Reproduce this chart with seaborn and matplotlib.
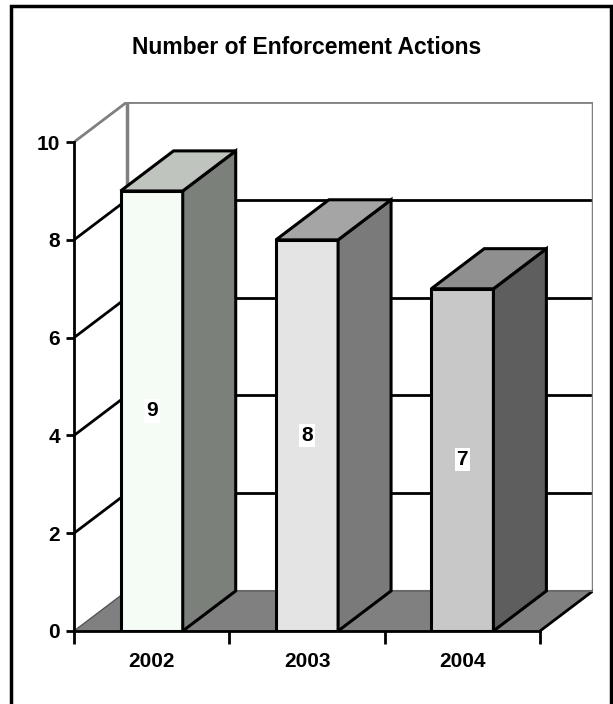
import matplotlib
matplotlib.use('Agg')
import matplotlib.pyplot as plt
from matplotlib.patches import Polygon, Rectangle
import seaborn as sns

# data
years = ['2002', '2003', '2004']
actions = [9, 8, 7]
y_ticks = [0, 2, 4, 6, 8, 10]

# bar face colours (front / side / top)
front_colors = ['#f5fcf5', '#e4e4e4', '#c8c8c8']
side_colors = ['#7c807b', '#7a7a7a', '#5e5e5e']
top_colors = ['#bfc4bf', '#a5a5a5', '#8f8f8f']

sns.set_style('white')
plt.rcParams['font.family'] = ['Liberation Sans', 'DejaVu Sans']
plt.rcParams.update({'text.color': 'black', 'axes.edgecolor': 'black',
                     'xtick.color': 'black', 'ytick.color': 'black',
                     'axes.labelcolor': 'black'})

W, H = 613, 704
fig = plt.figure(figsize=(W / 100, H / 100), dpi=100)
ax = fig.add_axes([74 / W, (H - 631) / H, (593 - 74) / W, (631 - 102) / H])

# depth offset of the pseudo-3D box (data units)
DX, DY = 0.341, 0.82
YMAX = 10

sns.barplot(x=years, y=actions, hue=years, palette=front_colors, legend=False,
            width=0.4, saturation=1, edgecolor='black', linewidth=2.2, ax=ax)
bars = list(ax.patches)

ax.set_xlim(-0.5, 2.5 + DX)
ax.set_ylim(0, YMAX + DY)

gray = '#808080'
# floor
ax.add_patch(Polygon([(-0.5, 0), (2.5, 0), (2.5 + DX, DY), (-0.5 + DX, DY)],
                     closed=True, fc=gray, ec='none', zorder=0.5))
ax.plot([2.5, 2.5 + DX], [0, DY], color='black', lw=2, zorder=0.9)
ax.plot([-0.5 + DX, 2.5 + DX], [DY, DY], color='#6a6a6a', lw=1.5, zorder=0.9)

# walls: left-wall diagonals and back-wall gridlines
for v in y_ticks[1:]:
    c = gray if v == YMAX else 'black'
    ax.plot([-0.5, -0.5 + DX], [v, v + DY], color=c, lw=2, zorder=0.8)
    ax.plot([-0.5 + DX, 2.5 + DX], [v + DY, v + DY], color=c, lw=2, zorder=0.8)
ax.plot([-0.5, -0.5 + DX], [0, DY], color='#555555', lw=1, zorder=0.9)
for xx in (-0.5 + DX, 2.5 + DX):
    ax.plot([xx, xx], [DY, YMAX + DY], color=gray, lw=2.5, zorder=0.8)

# 3D side and top faces
for bar, sc, tc in zip(bars, side_colors, top_colors):
    x0, w, h = bar.get_x(), bar.get_width(), bar.get_height()
    x1 = x0 + w
    bar.set_zorder(3)
    bar.set_joinstyle('miter')
    ax.add_patch(Polygon([(x1, 0), (x1 + DX, DY), (x1 + DX, h + DY), (x1, h)],
                         closed=True, fc=sc, ec='black', lw=2.2, zorder=3,
                         joinstyle='miter'))
    ax.add_patch(Polygon([(x0, h), (x1, h), (x1 + DX, h + DY), (x0 + DX, h + DY)],
                         closed=True, fc=tc, ec='black', lw=2.2, zorder=3,
                         joinstyle='miter'))
    ax.text(x0 + w / 2, h / 2, f'{h:.0f}', ha='center', va='center',
            fontsize=15, fontweight='bold', zorder=4,
            bbox=dict(facecolor='white', edgecolor='none', pad=1.5))

# axes styling
for s in ('top', 'right'):
    ax.spines[s].set_visible(False)
ax.spines['left'].set_bounds(0, YMAX)
ax.spines['bottom'].set_bounds(-0.5, 2.5)
ax.spines['left'].set_linewidth(2)
ax.spines['bottom'].set_linewidth(2)
ax.spines['left'].set_zorder(5)
ax.spines['bottom'].set_zorder(5)

ax.set_yticks(y_ticks)
ax.set_yticklabels([str(t) for t in y_ticks], fontsize=15, fontweight='bold')
ax.tick_params(axis='y', direction='out', length=6, width=2, pad=4, left=True)
ax.set_xticks(range(len(years)))
ax.set_xticklabels(years, fontsize=15, fontweight='bold')
ax.set_xticks([-0.5, 0.5, 1.5, 2.5], minor=True)
ax.tick_params(axis='x', which='major', length=0, pad=15)
ax.tick_params(axis='x', which='minor', direction='out', length=9, width=2,
               bottom=True)
ax.set_xlabel('')
ax.set_ylabel('')
ax.patch.set_alpha(0)

fig.text(307 / W, 1 - 47 / H, 'Number of Enforcement Actions', ha='center',
         va='center', fontsize=16.5, fontweight='bold')

# outer frame
fig.add_artist(Rectangle((11 / W, -0.02), (611 - 11) / W, 0.02 + (H - 6) / H,
                         transform=fig.transFigure, fill=False, lw=2.5,
                         ec='black'))

fig.savefig('out.png', dpi=100)
